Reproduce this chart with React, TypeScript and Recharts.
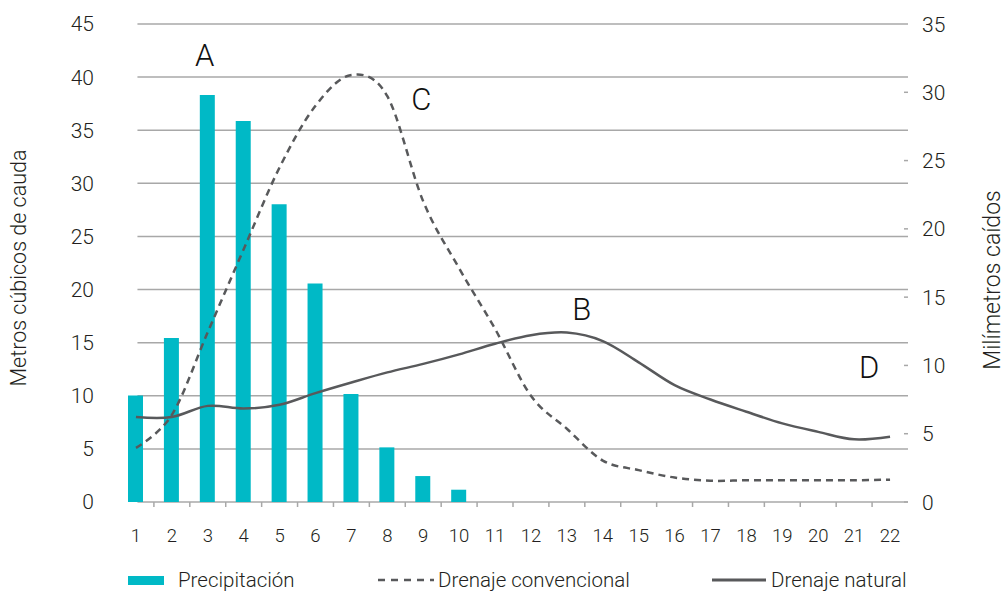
import React from 'react';
import { ComposedChart, Bar, Line, XAxis, YAxis, CartesianGrid, Legend, ReferenceDot, Label } from 'recharts';

const dias = ['1', '2', '3', '4', '5', '6', '7', '8', '9', '10', '11', '12', '13', '14', '15', '16', '17', '18', '19', '20', '21', '22'];

// mm, eje derecho
const precipitacion = [7.8, 12, 29.8, 27.9, 21.8, 16, 7.9, 4, 1.9, 0.9, null, null, null, null, null, null, null, null, null, null, null, null];

// m3, eje izquierdo
const drenajeConvencional = [5.1, 8.2, 16.0, 23.8, 31.5, 37.3, 40.2, 38.2, 28.3, 22.0, 16.3, 10.0, 6.9, 3.9, 3.0, 2.3, 2.0, 2.05, 2.05, 2.05, 2.05, 2.1];
const drenajeNatural = [8.0, 8.0, 9.05, 8.8, 9.15, 10.25, 11.25, 12.2, 13.0, 13.9, 14.9, 15.7, 15.95, 15.15, 13.15, 11.0, 9.65, 8.5, 7.4, 6.6, 5.9, 6.15];

const caudaTicks = [0, 5, 10, 15, 20, 25, 30, 35, 40, 45];
const caidosTicks = [0, 5, 10, 15, 20, 25, 30, 35];

const letras = ['A', 'B', 'C', 'D'];
const letrasDia = ['3', '13', '9', '21'];
const letrasValor = [42.1, 18.2, 38.0, 12.7];

const data = dias.map((dia, i) => ({
  dia,
  precipitacion: precipitacion[i],
  convencional: drenajeConvencional[i],
  natural: drenajeNatural[i],
}));

const FONT = 'Roboto, "Liberation Sans", sans-serif';
const TEAL = '#00b9c6';
const GRAY = '#58595b';
const GRID = '#a8a8a8';
const TEXT = '#231f20';

// suavizado tipo Excel (Catmull-Rom uniforme)
const suave = (context: any) => {
  const k = 1 / 6;
  let x0 = NaN, x1 = NaN, x2 = NaN, y0 = NaN, y1 = NaN, y2 = NaN, n = 0;
  const seg = (x: number, y: number) => {
    context.bezierCurveTo(x1 + k * (x2 - x0), y1 + k * (y2 - y0), x2 + k * (x1 - x), y2 + k * (y1 - y), x2, y2);
  };
  return {
    areaStart() {},
    areaEnd() {},
    lineStart() {
      x0 = x1 = x2 = y0 = y1 = y2 = NaN;
      n = 0;
    },
    lineEnd() {
      if (n === 2) context.lineTo(x2, y2);
      else if (n === 3) seg(x1, y1);
    },
    point(x: number, y: number) {
      x = +x;
      y = +y;
      if (n === 0) {
        n = 1;
        context.moveTo(x, y);
      } else if (n === 1) {
        n = 2;
        x1 = x;
        y1 = y;
      } else {
        n = 3;
        seg(x, y);
      }
      x0 = x1; x1 = x2; x2 = x;
      y0 = y1; y1 = y2; y2 = y;
    },
  };
};

const DiaTick = (props: any) => {
  const { x, y, payload, index } = props;
  const half = payload.offset || 18;
  return (
    <g>
      {index < dias.length - 1 && (
        <line x1={x + half} x2={x + half} y1={y} y2={y + 5} stroke={GRID} strokeWidth={1.5} />
      )}
      <text x={x} y={y + 40} textAnchor="middle" fontFamily={FONT} fontWeight={300} fontSize={18.5} fill={TEXT}>
        {payload.value}
      </text>
    </g>
  );
};

const CaidosTick = (props: any) => {
  const { x, y, payload } = props;
  return (
    <g>
      {payload.value !== 35 && <line x1={x - 18} x2={x - 14} y1={y} y2={y} stroke={GRID} strokeWidth={1.5} />}
      <text x={x} y={y} dy="0.36em" textAnchor="start" fontFamily={FONT} fontWeight={300} fontSize={21} fill={TEXT}>
        {payload.value}
      </text>
    </g>
  );
};

const GridLine = (props: any) => {
  const { x1, x2, y1, y2 } = props;
  const start = x1 + (x2 - x1) / dias.length / 2 + 1.5;
  return <line x1={start} x2={x2} y1={y1} y2={y2} stroke={GRID} strokeWidth={1.5} />;
};

const Leyenda = () => {
  const item: React.CSSProperties = { position: 'absolute', top: 12, height: 20, display: 'flex', alignItems: 'center', whiteSpace: 'nowrap' };
  return (
    <div style={{ position: 'relative', width: 1004, height: 36, fontFamily: FONT, fontWeight: 300, fontSize: 20.5, color: TEXT }}>
      <div style={{ ...item, left: 128 }}>
        <span style={{ display: 'inline-block', width: 36, height: 9, background: TEAL, marginRight: 14 }} />
        <span>Precipitación</span>
      </div>
      <div style={{ ...item, left: 378 }}>
        <svg width={56} height={6} style={{ marginRight: 4 }}>
          <line x1={0} x2={56} y1={3} y2={3} stroke={GRAY} strokeWidth={2.5} strokeDasharray="7 6" />
        </svg>
        <span>Drenaje convencional</span>
      </div>
      <div style={{ ...item, left: 712 }}>
        <svg width={54} height={6} style={{ marginRight: 5 }}>
          <line x1={0} x2={54} y1={3} y2={3} stroke={GRAY} strokeWidth={3} />
        </svg>
        <span>Drenaje natural</span>
      </div>
    </div>
  );
};

const Letra = (texto: string, dx: number) => (props: any) => {
  const { viewBox } = props;
  return (
    <text x={viewBox.x + dx} y={viewBox.y} dy="0.36em" textAnchor="middle" fontFamily={FONT} fontWeight={300} fontSize={31} fill="#111">
      {texto}
    </text>
  );
};

const desplazamiento: Record<string, number> = { A: -3, B: 15, C: -2, D: 15 };

export default function App() {
  return (
    <div style={{ position: 'absolute', left: 0, top: 0, background: '#fff' }}>
      <ComposedChart width={1004} height={594} data={data} margin={{ top: 24, right: 0, bottom: 0, left: 0 }}>
        <CartesianGrid yAxisId="left" vertical={false} horizontal={GridLine} />
        <XAxis
          dataKey="dia"
          axisLine={false}
          tickLine={false}
          tickSize={0}
          tickMargin={0}
          height={56}
          interval={0}
          tick={DiaTick}
        />
        <YAxis
          yAxisId="left"
          orientation="left"
          width={118}
          domain={[0, 45]}
          ticks={caudaTicks}
          axisLine={false}
          tickLine={false}
          tickSize={6}
          tickMargin={18}
          tick={{ fontFamily: FONT, fontWeight: 300, fontSize: 21, fill: TEXT }}
        >
          <Label
            content={(p: any) => {
              const cx = p.viewBox.x + 18;
              const cy = p.viewBox.y + p.viewBox.height / 2 + 5;
              return (
                <text x={cx} y={cy} transform={`rotate(-90 ${cx} ${cy})`} textAnchor="middle" dominantBaseline="central" fontFamily={FONT} fontWeight={300} fontSize={21.5} fill={TEXT}>
                  Metros cúbicos de cauda
                </text>
              );
            }}
          />
        </YAxis>
        <YAxis
          yAxisId="right"
          orientation="right"
          width={96}
          domain={[0, 35]}
          ticks={caidosTicks}
          axisLine={false}
          tickLine={false}
          tickSize={0}
          tickMargin={14}
          tick={CaidosTick}
        >
          <Label
            content={(p: any) => {
              const cx = p.viewBox.x + 84;
              const cy = p.viewBox.y + p.viewBox.height / 2 + 17;
              return (
                <text x={cx} y={cy} transform={`rotate(-90 ${cx} ${cy})`} textAnchor="middle" dominantBaseline="central" fontFamily={FONT} fontWeight={300} fontSize={23} fill={TEXT}>
                  Milímetros caídos
                </text>
              );
            }}
          />
        </YAxis>
        <Legend verticalAlign="bottom" height={36} content={Leyenda} wrapperStyle={{ left: 0, bottom: 0, width: 1004, height: 36 }} />
        <Bar yAxisId="right" dataKey="precipitacion" name="Precipitación" fill={TEAL} barSize={15} isAnimationActive={false} />
        <Line
          yAxisId="left"
          type={suave as any}
          dataKey="convencional"
          name="Drenaje convencional"
          stroke={GRAY}
          strokeWidth={2.5}
          strokeDasharray="7 5"
          dot={false}
          activeDot={false}
          isAnimationActive={false}
        />
        <Line
          yAxisId="left"
          type={suave as any}
          dataKey="natural"
          name="Drenaje natural"
          stroke={GRAY}
          strokeWidth={2.5}
          dot={false}
          activeDot={false}
          isAnimationActive={false}
        />
        {letras.map((letra, i) => (
          <ReferenceDot
            key={letra}
            yAxisId="left"
            x={letrasDia[i]}
            y={letrasValor[i]}
            r={0}
            fill="none"
            stroke="none"
            label={Letra(letra, desplazamiento[letra])}
          />
        ))}
      </ComposedChart>
    </div>
  );
}
